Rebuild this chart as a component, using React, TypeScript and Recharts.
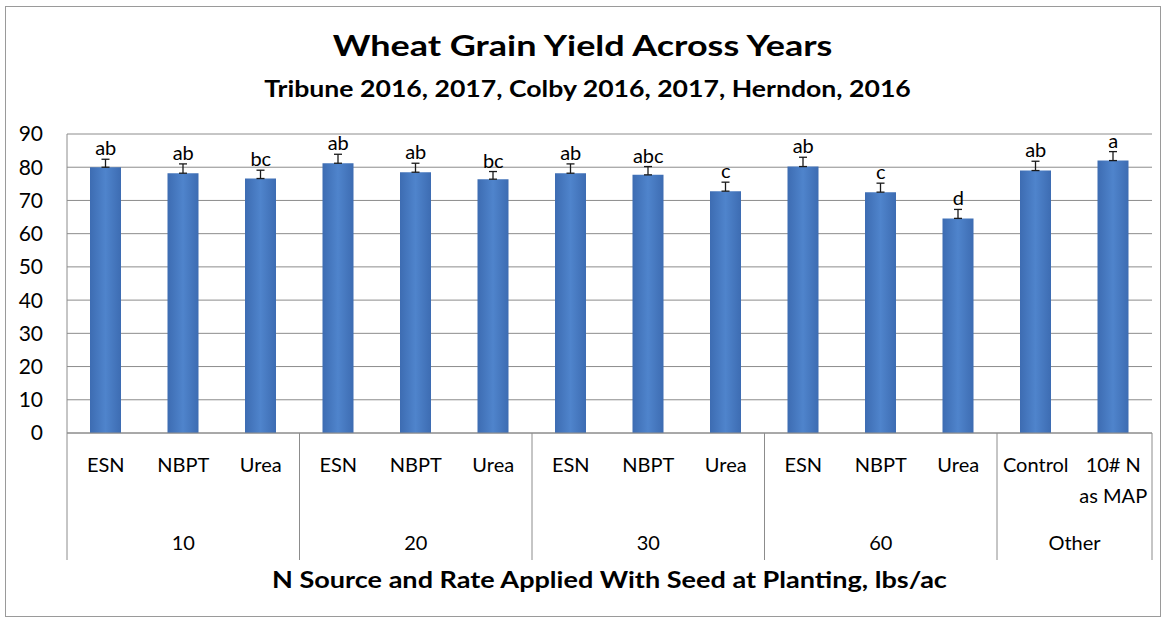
import React from "react";
import {
  ComposedChart,
  Bar,
  Line,
  XAxis,
  YAxis,
  CartesianGrid,
  ErrorBar,
  LabelList,
} from "recharts";

const sources = [
  "ESN", "NBPT", "Urea",
  "ESN", "NBPT", "Urea",
  "ESN", "NBPT", "Urea",
  "ESN", "NBPT", "Urea",
  "Control", "10# N\nas MAP",
];
const rates = [
  "10", "10", "10",
  "20", "20", "20",
  "30", "30", "30",
  "60", "60", "60",
  "Other", "Other",
];
const yields = [80.0, 78.2, 76.6, 81.2, 78.5, 76.4, 78.2, 77.7, 72.8, 80.2, 72.5, 64.6, 79.0, 82.0];
const errors = [2.4, 2.8, 2.5, 2.7, 2.7, 2.3, 2.8, 2.5, 2.7, 2.8, 2.7, 2.7, 2.8, 2.7];
const letters = ["ab", "ab", "bc", "ab", "ab", "bc", "ab", "abc", "c", "ab", "c", "d", "ab", "a"];
const yTicks = [0, 10, 20, 30, 40, 50, 60, 70, 80, 90];

const FONT = "Lato, 'Open Sans', sans-serif";
const W = 1167;
const H = 620;
const PLOT_LEFT = 67;
const PLOT_RIGHT = 1152;
const PLOT_TOP = 134;
const PLOT_BOTTOM = 433;
const X_AXIS_H = 130;
const LINE_COLOR = "#8c8c8c";

const rows = sources.map((s, i) => ({
  key: `${rates[i]}-${s}`,
  source: s,
  rate: rates[i],
  yield: yields[i],
  err: [0, errors[i]],
  top: yields[i] + errors[i],
  letter: letters[i],
}));

function CategoryTick(props: any) {
  const { x, y, payload } = props;
  const i: number = payload.index;
  const band = (PLOT_RIGHT - PLOT_LEFT) / rows.length;
  const rate = rates[i];
  const first = i === 0 || rates[i - 1] !== rate;
  const last = i === rates.length - 1;
  const groupSize = rates.filter((r) => r === rate).length;
  const lines = sources[i].split("\n");
  const sepBottom = y + 127;
  return (
    <g>
      {lines.map((ln, k) => (
        <text
          key={k}
          x={x}
          y={y + 39 + k * 31}
          textAnchor="middle"
          fontFamily={FONT}
          fontSize={20}
          fill="#000"
        >
          {ln}
        </text>
      ))}
      {first && (
        <>
          <line x1={x - band / 2} x2={x - band / 2} y1={y} y2={sepBottom} stroke={LINE_COLOR} />
          <text
            x={x + ((groupSize - 1) / 2) * band}
            y={y + 117}
            textAnchor="middle"
            fontFamily={FONT}
            fontSize={20}
            fill="#000"
          >
            {rate}
          </text>
        </>
      )}
      {last && (
        <line x1={x + band / 2} x2={x + band / 2} y1={y} y2={sepBottom} stroke={LINE_COLOR} />
      )}
    </g>
  );
}

// reference text is wider than Lato at the same cap height, so stretch it a bit
const titleBase: React.CSSProperties = {
  position: "absolute",
  textAlign: "center",
  fontWeight: 700,
  color: "#000",
  whiteSpace: "nowrap",
};

export default function App() {
  return (
    <div
      style={{
        position: "absolute",
        left: 0,
        top: 0,
        width: W,
        height: H,
        background: "#fff",
        fontFamily: FONT,
      }}
    >
      <div
        style={{
          position: "absolute",
          left: 5,
          top: 6,
          width: 1154,
          height: 609,
          border: "1px solid #9a9a9a",
        }}
      />
      <div
        style={{
          ...titleBase,
          left: 0,
          width: W - 2,
          top: 28,
          fontSize: 29,
          lineHeight: "34px",
          transform: "scaleX(1.24)",
        }}
      >
        Wheat Grain Yield Across Years
      </div>
      <div
        style={{
          ...titleBase,
          left: 0,
          width: W + 8,
          top: 75,
          fontSize: 22,
          lineHeight: "28px",
          transform: "scaleX(1.21)",
        }}
      >
        Tribune 2016, 2017, Colby 2016, 2017, Herndon, 2016
      </div>
      <div
        style={{
          ...titleBase,
          left: PLOT_LEFT,
          width: PLOT_RIGHT - PLOT_LEFT,
          top: 565,
          fontSize: 22,
          lineHeight: "30px",
          transform: "scaleX(1.23)",
        }}
      >
        N Source and Rate Applied With Seed at Planting, lbs/ac
      </div>
      <ComposedChart
        width={W}
        height={H}
        data={rows}
        margin={{
          top: PLOT_TOP,
          right: W - PLOT_RIGHT,
          left: 12,
          bottom: H - PLOT_BOTTOM - X_AXIS_H,
        }}
        style={{ position: "absolute", left: 0, top: 0 }}
      >
        <defs>
          <linearGradient id="barFill" x1="0" y1="0" x2="1" y2="0">
            <stop offset="0%" stopColor="#3d6cb2" />
            <stop offset="50%" stopColor="#4f84cc" />
            <stop offset="100%" stopColor="#3d6cb2" />
          </linearGradient>
        </defs>
        <CartesianGrid vertical={false} stroke={LINE_COLOR} />
        <XAxis
          dataKey="key"
          height={X_AXIS_H}
          interval={0}
          tickLine={false}
          tickSize={0}
          tickMargin={0}
          axisLine={{ stroke: LINE_COLOR }}
          tick={<CategoryTick />}
        />
        <YAxis
          width={PLOT_LEFT - 12}
          domain={[0, 90]}
          ticks={yTicks}
          tickLine={false}
          tickSize={0}
          tickMargin={24}
          axisLine={{ stroke: LINE_COLOR }}
          tick={{ fontSize: 21, fill: "#000", fontFamily: FONT }}
        />
        <Bar dataKey="yield" barSize={31} fill="url(#barFill)" isAnimationActive={false}>
          <ErrorBar dataKey="err" width={4} strokeWidth={1.3} stroke="#1a1a1a" direction="y" />
        </Bar>
        <Line
          dataKey="top"
          stroke="none"
          dot={false}
          activeDot={false}
          isAnimationActive={false}
        >
          <LabelList
            dataKey="letter"
            position="top"
            offset={4}
            fontFamily={FONT}
            fontSize={20}
            fill="#000"
          />
        </Line>
      </ComposedChart>
    </div>
  );
}
